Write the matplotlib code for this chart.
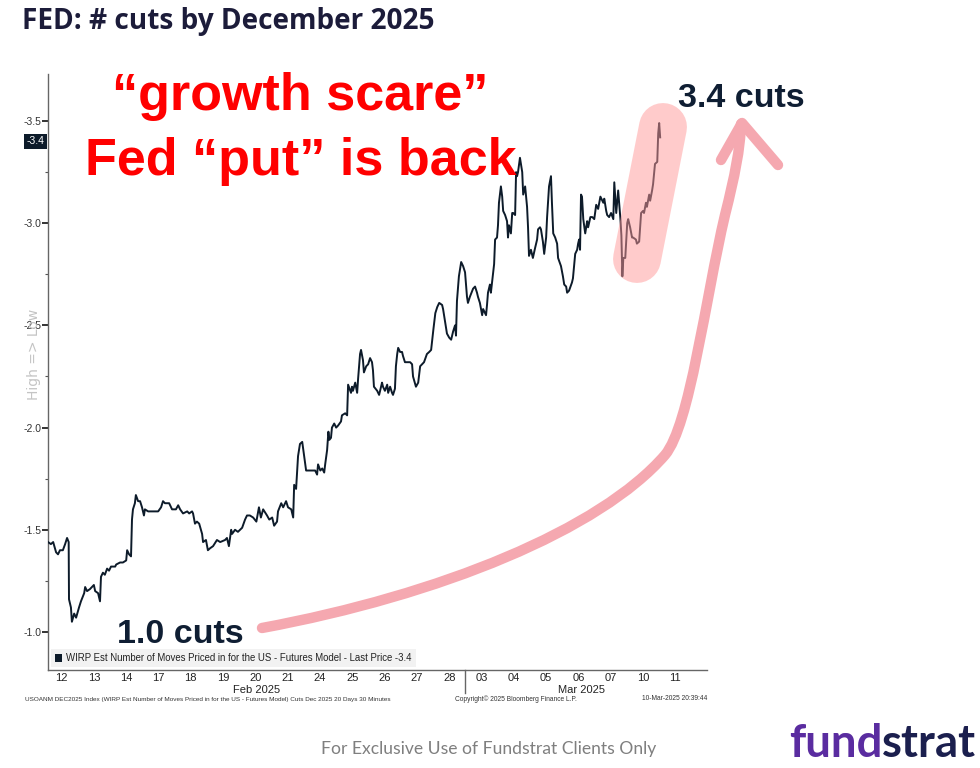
import numpy as np
import matplotlib
matplotlib.use("Agg")
import matplotlib.pyplot as plt
from matplotlib.path import Path
from matplotlib.patches import PathPatch, Rectangle
from matplotlib.lines import Line2D
import matplotlib.transforms as mtransforms

# trading sessions shown on the x axis
day_labels = ["12", "13", "14", "17", "18", "19", "20", "21", "24", "25", "26", "27", "28",
              "03", "04", "05", "06", "07", "10", "11"]
month_labels = ["Feb 2025", "Mar 2025"]
feb_days = 13

# time in sessions from the start of Feb 12
t_days = [0.08, 0.17, 0.24, 0.33, 0.39, 0.45, 0.54, 0.61, 0.67, 0.72,
          0.73, 0.79, 0.82, 0.89, 0.95, 1.04, 1.10, 1.20, 1.23, 1.29,
          1.38, 1.44, 1.50, 1.54, 1.63, 1.69, 1.72, 1.78, 1.84, 1.91,
          1.97, 2.03, 2.16, 2.19, 2.31, 2.40, 2.50, 2.53, 2.59, 2.65,
          2.68, 2.71, 2.77, 2.80, 2.87, 2.93, 2.99, 3.05, 3.08, 3.18,
          3.49, 3.58, 3.64, 3.70, 3.83, 3.92, 4.04, 4.11,
          4.17, 4.26, 4.39, 4.45, 4.54, 4.57, 4.63, 4.69, 4.76, 4.85,
          4.88, 4.97, 5.03, 5.10, 5.19, 5.31, 5.41, 5.56, 5.62, 5.68,
          5.75, 5.78, 5.87, 5.96, 6.09, 6.18, 6.24, 6.33, 6.43, 6.53,
          6.61, 6.67, 6.74, 6.86, 6.93, 7.02, 7.08, 7.17, 7.20, 7.30,
          7.36, 7.45, 7.51, 7.61, 7.67, 7.70, 7.76,
          7.82, 7.88, 7.95, 8.01, 8.07, 8.19, 8.35, 8.41, 8.44, 8.51,
          8.57, 8.63, 8.66, 8.72, 8.76, 8.79, 8.84, 8.87, 8.94, 9.00,
          9.06, 9.15, 9.18, 9.28, 9.34, 9.37, 9.46, 9.49, 9.52, 9.59,
          9.65, 9.68, 9.74, 9.77, 9.83, 9.86, 9.93, 9.99, 10.05, 10.11,
          10.14, 10.17, 10.27, 10.33, 10.42, 10.45, 10.51, 10.58, 10.61, 10.67,
          10.73, 10.76, 10.82, 10.85, 10.89, 10.92, 10.98, 11.04, 11.07, 11.13,
          11.20, 11.29, 11.35, 11.38, 11.47, 11.54, 11.60, 11.72, 11.81, 11.88,
          11.94, 12.01, 12.07, 12.13, 12.19, 12.28, 12.31, 12.37, 12.43, 12.50,
          12.56, 12.62, 12.68, 12.71, 12.74, 12.80, 12.87, 12.93, 12.99, 13.05,
          13.08, 13.14, 13.24, 13.30, 13.36, 13.39, 13.45, 13.52, 13.55, 13.64,
          13.67, 13.70, 13.76, 13.79, 13.86, 13.89, 13.92, 13.98, 14.01, 14.04,
          14.10, 14.14, 14.17, 14.23, 14.29, 14.32, 14.35, 14.41, 14.45, 14.48,
          14.54, 14.57, 14.60, 14.63, 14.69, 14.76, 14.79, 14.85, 14.91, 14.94,
          14.97, 15.03, 15.09, 15.16, 15.22, 15.25, 15.31,
          15.34, 15.40, 15.44, 15.50, 15.53, 15.59, 15.65, 15.68, 15.72, 15.78,
          15.84, 15.87, 15.96, 16.02, 16.06, 16.12, 16.15, 16.21, 16.30, 16.33,
          16.40, 16.46, 16.49, 16.52, 16.55, 16.58, 16.61, 16.65, 16.71, 16.77,
          16.80, 16.87, 16.93, 16.99, 17.05, 17.11, 17.18, 17.27, 17.30, 17.36,
          17.39, 17.45, 17.51, 17.58, 17.61, 17.67, 17.73, 17.80, 17.83, 17.86,
          17.89, 17.95, 18.01, 18.04, 18.10, 18.16, 18.19, 18.28, 18.31, 18.38,
          18.44, 18.50, 18.53, 18.59, 18.62, 18.69, 18.72, 18.78, 18.81, 18.87,
          18.94, 18.97, 19.00, 19.03]

# WIRP est. number of moves priced by Dec 2025 (negative = cuts)
cuts = [-1.44, -1.43, -1.44, -1.39, -1.38, -1.40, -1.40, -1.43, -1.46, -1.44,
        -1.16, -1.12, -1.05, -1.09, -1.07, -1.12, -1.15, -1.19, -1.22, -1.20,
        -1.21, -1.22, -1.23, -1.20, -1.19, -1.15, -1.27, -1.29, -1.28, -1.31,
        -1.30, -1.32, -1.32, -1.33, -1.34, -1.34, -1.35, -1.40, -1.38, -1.37,
        -1.55, -1.60, -1.63, -1.67, -1.64, -1.64, -1.61, -1.57, -1.60, -1.59,
        -1.59, -1.61, -1.64, -1.63, -1.63, -1.60, -1.60, -1.62,
        -1.60, -1.58, -1.59, -1.58, -1.59, -1.58, -1.53, -1.54, -1.53, -1.48,
        -1.44, -1.45, -1.40, -1.41, -1.42, -1.45, -1.44, -1.45, -1.46, -1.42,
        -1.50, -1.48, -1.50, -1.49, -1.51, -1.55, -1.57, -1.57, -1.56, -1.54,
        -1.61, -1.56, -1.60, -1.57, -1.55, -1.56, -1.52, -1.54, -1.59, -1.63,
        -1.61, -1.64, -1.61, -1.60, -1.56, -1.72, -1.70,
        -1.86, -1.92, -1.93, -1.86, -1.79, -1.79, -1.79, -1.77, -1.82, -1.79,
        -1.80, -1.78, -1.82, -1.89, -1.98, -1.94, -1.95, -2.00, -2.02, -2.00,
        -2.01, -2.03, -2.06, -2.07, -2.06, -2.21, -2.17, -2.20, -2.18, -2.22,
        -2.17, -2.24, -2.36, -2.38, -2.33, -2.27, -2.30, -2.31, -2.34, -2.32,
        -2.28, -2.20, -2.18, -2.16, -2.22, -2.20, -2.18, -2.21, -2.17, -2.20,
        -2.17, -2.16, -2.19, -2.30, -2.36, -2.39, -2.37, -2.37, -2.35, -2.32,
        -2.32, -2.32, -2.31, -2.25, -2.20, -2.22, -2.30, -2.32, -2.36, -2.37,
        -2.38, -2.48, -2.56, -2.59, -2.61, -2.60, -2.58, -2.52, -2.46, -2.44,
        -2.43, -2.47, -2.50, -2.45, -2.62, -2.74, -2.81, -2.79, -2.76, -2.64,
        -2.61, -2.64, -2.68, -2.69, -2.66, -2.64, -2.61, -2.55, -2.58, -2.55,
        -2.60, -2.66, -2.70, -2.66, -2.76, -2.80, -2.92, -2.93, -2.99, -3.10,
        -3.18, -3.13, -3.06, -3.04, -3.01, -2.93, -2.99, -2.95, -3.05, -3.05,
        -3.04, -3.25, -3.23, -3.25, -3.32, -3.25, -3.14, -3.18, -3.08, -2.98,
        -2.84, -2.87, -2.83, -2.88, -2.92, -2.97, -2.98,
        -2.97, -2.91, -2.85, -2.93, -3.03, -3.18, -3.23, -3.10, -2.95, -2.93,
        -2.90, -2.83, -2.79, -2.74, -2.70, -2.69, -2.66, -2.67, -2.71, -2.73,
        -2.85, -2.87, -2.90, -2.92, -2.87, -3.14, -3.13, -3.02, -2.95, -3.01,
        -2.98, -3.03, -3.03, -3.02, -3.09, -3.07, -3.13, -3.10, -3.12, -3.06,
        -3.04, -3.03, -3.05, -3.02, -3.20, -3.05, -3.16, -3.02, -2.94, -2.74,
        -2.83, -2.83, -3.00, -3.02, -2.98, -2.93, -2.93, -2.92, -2.90, -2.91,
        -3.05, -3.06, -3.05, -3.10, -3.08, -3.14, -3.11, -3.16, -3.19, -3.29,
        -3.30, -3.44, -3.49, -3.42]

last_price = -3.4
y_ticks = [-1.0, -1.5, -2.0, -2.5, -3.0, -3.5]

NAVY = "#0d1b2a"
SANS = ["Liberation Sans", "DejaVu Sans"]

W, H = 980, 768
fig = plt.figure(figsize=(W / 100, H / 100), dpi=100)
fig.patch.set_facecolor("white")


def fx(x):
    return x / W


def fy(y):
    return 1 - y / H


ax = fig.add_axes([fx(48), fy(670), fx(707) - fx(48), fy(74) - fy(670)])
ax.plot(t_days, cuts, color=NAVY, lw=1.4, zorder=3)

ax.set_xlim(0.08, 20.48)
ax.set_ylim(-0.814, -3.73)
ax.set_yticks(y_ticks)
ax.set_yticklabels(["%.1f" % v for v in y_ticks])
ax.set_yticks(np.arange(-1.25, -3.6, -0.5), minor=True)
ax.tick_params(axis="y", which="major", direction="out", length=4, width=1.3,
               color="#222222", labelsize=7.5, labelcolor="#333333", pad=1)
ax.tick_params(axis="y", which="minor", direction="out", length=2, width=0.8, color="#555555")
ax.set_xticks(np.arange(len(day_labels)) + 0.5)
ax.set_xticklabels(day_labels)
ax.tick_params(axis="x", length=0, labelsize=8, labelcolor="#222222", pad=2.5)
for lab in ax.get_xticklabels() + ax.get_yticklabels():
    lab.set_family(SANS)

for s in ["top", "right"]:
    ax.spines[s].set_visible(False)
ax.spines["left"].set_color("#666666")
ax.spines["bottom"].set_color("#666666")
ax.spines["left"].set_linewidth(1.0)
ax.spines["bottom"].set_linewidth(1.0)

# month labels and separator
trans = mtransforms.blended_transform_factory(ax.transData, ax.transAxes)
ax.plot([feb_days, feb_days], [0, -0.039], transform=trans, color="#666666",
        lw=1.0, clip_on=False)
ax.text(feb_days / 2 + 0.05, -0.034, month_labels[0], transform=trans, ha="center",
        va="center", fontsize=8, color="#222222", family=SANS)
ax.text(feb_days + (len(day_labels) - feb_days) / 2 + 0.1, -0.034, month_labels[1],
        transform=trans, ha="center", va="center", fontsize=8, color="#222222", family=SANS)

# last price badge
ytrans = mtransforms.blended_transform_factory(ax.transAxes, ax.transData)
ax.text(-0.006, last_price, "%.1f" % last_price, transform=ytrans, ha="right", va="center",
        fontsize=7.5, color="white", family=SANS,
        bbox=dict(boxstyle="square,pad=0.25", fc=NAVY, ec="none"), clip_on=False)

# legend
leg_handle = Rectangle((0, 0), 1, 1, fc=NAVY, ec="none")
leg = ax.legend([leg_handle],
                ["WIRP Est Number of Moves Priced in for the US - Futures Model - Last Price %.1f" % last_price],
                loc="lower left", bbox_to_anchor=(0.0, 0.0), borderaxespad=0.3,
                frameon=True, fancybox=False, handlelength=0.8, handleheight=0.8,
                handletextpad=0.4, borderpad=0.4,
                prop={"family": SANS, "size": 6.9})
leg.get_frame().set_facecolor("#efefef")
leg.get_frame().set_edgecolor("none")
for txt in leg.get_texts():
    txt.set_color("#222222")

fig.text(fx(34), fy(354), "High => Low", rotation=90, ha="center", va="center",
         fontsize=10, color="#c4c4c4")

# footer of the Bloomberg chart
fig.text(fx(25), fy(699), "USOANM DEC2025 Index (WIRP Est Number of Moves Priced in for the US - "
         "Futures Model) Cuts Dec 2025 20 Days 30 Minutes", fontsize=4.6, color="#333333",
         va="center", family=SANS)
fig.text(fx(516), fy(699), "Copyright\u00a9 2025 Bloomberg Finance L.P.", fontsize=4.8,
         color="#333333", va="center", ha="center", family=SANS)
fig.text(fx(707), fy(699), "10-Mar-2025 20:39:44", fontsize=4.8, color="#333333",
         va="center", ha="right", family=SANS)

# slide title and annotations
fig.text(fx(22), fy(22), "FED: # cuts by December 2025", fontsize=20.2, fontweight="bold",
         family=["Open Sans", "DejaVu Sans"], color="#1c1c3a", va="center")
fig.text(fx(300), fy(110), "\u201cgrowth scare\u201d", fontsize=37.5, fontweight="bold",
         family=SANS, color="#ff0000", ha="center", va="baseline")
fig.text(fx(301), fy(175), "Fed \u201cput\u201d is back", fontsize=37.5, fontweight="bold",
         family=SANS, color="#ff0000", ha="center", va="baseline")
fig.text(fx(678), fy(107), "3.4 cuts", fontsize=24.5, fontweight="bold",
         family=SANS, color="#0f1e33", ha="left", va="baseline")
fig.text(fx(117), fy(643), "1.0 cuts", fontsize=24.5, fontweight="bold",
         family=SANS, color="#0f1e33", ha="left", va="baseline")

PINK = "#f5a8b0"
shaft = [(262, 628), (440, 595), (600, 530), (665, 455),
         (690, 425), (705, 300), (725, 215),
         (735, 175), (740, 150), (741, 124)]
codes = [Path.MOVETO] + [Path.CURVE4] * 9
arrow_path = Path([(fx(x), fy(y)) for x, y in shaft], codes)
fig.add_artist(PathPatch(arrow_path, fc="none", ec=PINK, lw=7.5, capstyle="round",
                         joinstyle="round", transform=fig.transFigure, zorder=6))
head = [(721, 160), (742, 123), (778, 165)]
fig.add_artist(Line2D([fx(x) for x, y in head], [fy(y) for x, y in head], color=PINK,
                      lw=7.5, solid_capstyle="round", solid_joinstyle="round",
                      transform=fig.transFigure, zorder=6))

# highlight capsule around the latest move
fig.add_artist(Line2D([fx(663), fx(637)], [fy(127), fy(259)], color="#ff9999", alpha=0.5,
                      lw=34.5, solid_capstyle="round", transform=fig.transFigure, zorder=7))

fig.text(fx(489), fy(749), "For Exclusive Use of Fundstrat Clients Only", fontsize=12.6,
         color="#7f7f7f", ha="center", va="center", family=["Lato", "DejaVu Sans"])
t1 = fig.text(fx(789), fy(757), "fund", fontsize=32.8, color="#5a2ca0", ha="left",
              va="baseline", family=["Lato", "DejaVu Sans"], fontweight="bold")
fig.canvas.draw()
bb = t1.get_window_extent()
fig.text(bb.x1 / W, fy(757), "strat", fontsize=32.8, color="#1b1f4e", ha="left",
         va="baseline", family=["Lato", "DejaVu Sans"], fontweight="bold")

fig.savefig("out.png", dpi=100, facecolor="white")
